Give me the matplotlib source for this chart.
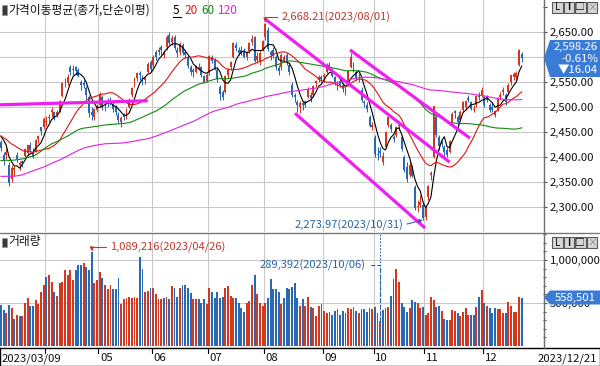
import matplotlib
matplotlib.use("Agg")
import matplotlib.pyplot as plt
import numpy as np
import pandas as pd
from matplotlib.patches import Rectangle, Polygon
from matplotlib.lines import Line2D
from matplotlib.transforms import blended_transform_factory, offset_copy

plt.rcParams["font.family"] = ["Noto Sans CJK KR", "DejaVu Sans"]

# KOSPI daily 2023/03/09 .. 2023/12/21, KRX holidays removed
HOLIDAYS = ["2023-05-01", "2023-05-05", "2023-05-29", "2023-06-06", "2023-08-15",
            "2023-09-28", "2023-09-29", "2023-10-02", "2023-10-03", "2023-10-09"]
dates = pd.bdate_range("2023-03-09", "2023-12-21")
dates = dates[~dates.isin(pd.to_datetime(HOLIDAYS))]

# closes before the window (only used by the 20/60/120 averages)
pre_close = [
    2401, 2382, 2355, 2367, 2347, 2332, 2290, 2220, 2223, 2169, 2161, 2155,
    2209, 2215, 2237, 2232, 2192, 2202, 2162, 2212, 2219, 2249, 2237, 2218, 2213, 2236, 2235, 2235, 2247, 2268, 2293,
    2335, 2336, 2329, 2348, 2399, 2399, 2424, 2402, 2483, 2474, 2480, 2477, 2442, 2444, 2419, 2405, 2418, 2441, 2437, 2408, 2433, 2473,
    2479, 2434, 2419, 2393, 2382, 2371, 2389, 2371, 2399, 2373, 2361, 2352, 2353, 2333, 2347, 2356, 2313, 2317, 2332, 2280, 2236,
    2225, 2218, 2255, 2264, 2289, 2350, 2351, 2359, 2365, 2386, 2399, 2379, 2368, 2380, 2395, 2428, 2468, 2484, 2450, 2425,
    2449, 2469, 2480, 2438, 2452, 2483, 2481, 2469, 2453, 2465, 2428, 2475, 2451, 2455, 2451, 2417, 2439, 2423, 2402, 2412,
    2432, 2432, 2462, 2463, 2431,
]

opn = [
    2430, 2405, 2405, 2385, 2356, 2375, 2405, 2384, 2393, 2402, 2409, 2425, 2410, 2413, 2437, 2460, 2460,
    2470, 2478, 2490, 2490, 2485, 2493, 2522, 2550, 2548, 2580, 2575, 2580, 2575, 2550, 2548, 2538, 2520, 2490, 2480, 2495,
    2505, 2520, 2500, 2512, 2512, 2505, 2500, 2485, 2470, 2485, 2478, 2500, 2525, 2543, 2558, 2568, 2560, 2555, 2570, 2590,
    2585, 2610, 2610, 2620, 2605, 2620, 2645, 2630, 2640, 2615, 2610, 2625, 2610, 2600, 2580, 2575, 2570, 2578, 2580, 2562, 2552,
    2568, 2600, 2595, 2575, 2540, 2530, 2530, 2565, 2580, 2600, 2625, 2615, 2615, 2612, 2600, 2612, 2630, 2640, 2595, 2590, 2615,
    2640, 2655, 2610, 2615, 2600, 2578, 2580, 2595, 2605, 2585, 2545, 2524, 2510, 2500, 2508, 2510, 2520, 2525, 2525, 2548, 2555, 2560,
    2560, 2570, 2585, 2575, 2560, 2540, 2552, 2545, 2535, 2545, 2580, 2585, 2570, 2560, 2535, 2510, 2505, 2480, 2460,
    2440, 2405, 2412, 2390, 2420, 2465, 2465, 2440, 2445, 2465, 2440, 2400, 2380, 2365, 2380, 2340, 2300, 2305, 2305,
    2280, 2320, 2365, 2400, 2480, 2440, 2432, 2420, 2415, 2410, 2470, 2492, 2480, 2475, 2495, 2500, 2518, 2510, 2495, 2505, 2525, 2525,
    2520, 2518, 2505, 2500, 2485, 2495, 2520, 2530, 2525, 2530, 2550, 2560, 2560, 2585, 2606,
]
high = [
    2435, 2410, 2418, 2390, 2385, 2383, 2410, 2392, 2395, 2418, 2425, 2430, 2418, 2436, 2445, 2461, 2480,
    2483, 2486, 2500, 2493, 2495, 2515, 2550, 2558, 2566, 2585, 2585, 2583, 2578, 2555, 2555, 2542, 2525, 2500, 2498, 2506,
    2530, 2525, 2508, 2518, 2520, 2510, 2505, 2490, 2482, 2488, 2498, 2518, 2540, 2560, 2570, 2572, 2565, 2562, 2590, 2595,
    2605, 2615, 2620, 2625, 2615, 2645, 2650, 2645, 2645, 2620, 2630, 2628, 2615, 2605, 2585, 2578, 2585, 2588, 2582, 2565, 2568,
    2605, 2605, 2598, 2580, 2545, 2535, 2565, 2578, 2592, 2630, 2630, 2620, 2622, 2618, 2612, 2630, 2645, 2642, 2610, 2612, 2635,
    2668.21, 2660, 2615, 2620, 2605, 2585, 2608, 2605, 2608, 2590, 2550, 2528, 2515, 2512, 2512, 2515, 2540, 2530, 2545, 2555, 2565, 2565,
    2568, 2588, 2590, 2578, 2562, 2552, 2558, 2548, 2540, 2575, 2608, 2590, 2575, 2568, 2540, 2515, 2510, 2485, 2470,
    2445, 2420, 2420, 2410, 2452, 2480, 2468, 2445, 2462, 2470, 2445, 2405, 2390, 2390, 2385, 2345, 2315, 2325, 2310,
    2305, 2345, 2372, 2502, 2485, 2445, 2435, 2425, 2420, 2435, 2490, 2495, 2485, 2495, 2512, 2515, 2525, 2512, 2505, 2525, 2530, 2540,
    2525, 2525, 2508, 2510, 2495, 2520, 2530, 2540, 2528, 2548, 2565, 2570, 2572, 2616, 2610,
]
low = [
    2412, 2385, 2396, 2343, 2350, 2362, 2390, 2375, 2380, 2400, 2405, 2410, 2398, 2410, 2428, 2445, 2456,
    2462, 2470, 2480, 2475, 2480, 2490, 2520, 2540, 2545, 2565, 2565, 2565, 2560, 2535, 2538, 2517, 2480, 2475, 2475, 2490,
    2500, 2495, 2492, 2500, 2505, 2490, 2485, 2468, 2460, 2475, 2476, 2498, 2520, 2540, 2552, 2555, 2545, 2546, 2568, 2570,
    2580, 2595, 2605, 2605, 2598, 2615, 2625, 2625, 2615, 2600, 2605, 2605, 2598, 2578, 2565, 2560, 2568, 2575, 2560, 2548, 2550,
    2565, 2588, 2575, 2550, 2515, 2515, 2528, 2558, 2575, 2598, 2612, 2605, 2605, 2598, 2595, 2608, 2625, 2590, 2588, 2585, 2612,
    2635, 2612, 2595, 2598, 2575, 2565, 2575, 2590, 2585, 2565, 2520, 2510, 2490, 2488, 2495, 2500, 2518, 2510, 2520, 2540, 2550, 2550,
    2550, 2568, 2575, 2560, 2545, 2535, 2540, 2530, 2525, 2543, 2578, 2570, 2555, 2550, 2510, 2500, 2490, 2460, 2455,
    2400, 2395, 2400, 2385, 2418, 2460, 2450, 2430, 2440, 2455, 2412, 2370, 2350, 2360, 2360, 2295, 2290, 2300, 2273.97,
    2275, 2315, 2355, 2398, 2440, 2415, 2420, 2400, 2400, 2408, 2468, 2478, 2465, 2472, 2490, 2495, 2510, 2495, 2490, 2500, 2515, 2520,
    2500, 2510, 2490, 2490, 2480, 2492, 2515, 2525, 2505, 2525, 2545, 2555, 2555, 2582, 2590,
]
close = [
    2419, 2395, 2411, 2349, 2379, 2378, 2396, 2388, 2389, 2417, 2424, 2415, 2400, 2434, 2443, 2453, 2477,
    2472, 2480, 2495, 2478, 2490, 2512, 2548, 2551, 2561, 2571, 2576, 2572, 2563, 2544, 2544, 2524, 2489, 2485, 2496, 2502,
    2527, 2501, 2501, 2510, 2510, 2496, 2491, 2475, 2479, 2480, 2494, 2515, 2538, 2557, 2568, 2565, 2554, 2559, 2586, 2577,
    2601, 2601, 2615, 2615, 2610, 2641, 2629, 2638, 2619, 2608, 2626, 2609, 2604, 2582, 2570, 2570, 2582, 2581, 2564, 2550, 2564,
    2602, 2593, 2579, 2556, 2527, 2521, 2562, 2574, 2590, 2628, 2619, 2609, 2608, 2600, 2610, 2628, 2636, 2592, 2603, 2608, 2633,
    2667, 2616, 2605, 2603, 2580, 2573, 2605, 2601, 2591, 2570, 2525, 2520, 2505, 2508, 2505, 2505, 2537, 2519, 2543, 2552, 2561, 2556,
    2564, 2585, 2582, 2563, 2548, 2548, 2544, 2536, 2534, 2573, 2601, 2574, 2559, 2559, 2515, 2508, 2496, 2463, 2465,
    2406, 2404, 2409, 2403, 2450, 2480, 2456, 2436, 2460, 2463, 2416, 2375, 2357, 2384, 2363, 2299, 2303, 2311, 2278,
    2302, 2343, 2368, 2502, 2444, 2422, 2427, 2410, 2404, 2433, 2487, 2488, 2470, 2491, 2510, 2512, 2515, 2497, 2496, 2522, 2520, 2535,
    2505, 2515, 2495, 2494, 2492, 2518, 2525, 2535, 2511, 2544, 2564, 2567, 2569, 2614.30, 2598.26,
]
# volume, thousand shares as shown on the axis (x1000)
vol_k = [
    477, 419, 388, 477, 442, 314, 360, 349, 349, 500, 558, 465, 465, 535, 488, 632, 709,
    802, 826, 748, 632, 581, 732, 748, 884, 826, 884, 767, 884, 942, 942, 961, 922, 884, 1089.216, 730, 770,
    860, 790, 715, 660, 710, 660, 665, 790, 490, 550, 560, 570, 560, 570, 560, 1040, 900, 630, 640, 670,
    670, 600, 550, 545, 560, 570, 550, 700, 670, 570, 680, 710, 710, 670, 620, 545, 550, 545, 495, 550, 490,
    670, 630, 560, 630, 560, 575, 670, 700, 580, 560, 560, 500, 445, 400, 505, 520, 710, 825, 600, 500, 465,
    500, 560, 780, 665, 660, 630, 490, 560, 670, 665, 690, 730, 560, 465, 547, 465, 570, 453, 442, 349, 465, 488,
    407, 384, 395, 360, 407, 430, 360, 407, 388, 442, 430, 453, 407, 388, 430, 430, 395, 442, 430,
    453, 384, 289.392, 420, 442, 453, 580, 775, 891, 745, 500, 453, 395, 442, 535, 512, 500, 442, 453,
    360, 388, 570, 535, 453, 465, 407, 314, 307, 307, 420, 407, 388, 349, 395, 442, 360, 360, 360, 453, 570, 651,
    500, 465, 442, 388, 442, 430, 430, 384, 384, 512, 465, 395, 395, 570, 558.501,
]
MONTH_LABELS = ["", "05", "06", "07", "08", "09", "10", "11", "12"]
MA_WINDOWS = [5, 20, 60, 120]

# hand-drawn trend lines: (index0, price0, index1, price1)
TRENDS = [(-0.35, 2505, 55.0, 2513),
          (98.9, 2677, 168.0, 2390),
          (110.1, 2488, 158.8, 2258),
          (130.7, 2615, 175.6, 2438)]

assert len(dates) == len(close) == len(opn) == len(high) == len(low) == len(vol_k)
assert len(pre_close) == 119

RED, BLUE = "#d2381f", "#2a68b4"
MA_COL = ["#000000", "#e01414", "#138a13", "#e020e0"]
TREND_COL = "#f01ef0"
GRID = "#c9c9c9"
BOXBLUE = "#3b7bd8"

W, H = 600, 366
fig = plt.figure(figsize=(W / 100, H / 100), dpi=100)


def rect(x0, y0, x1, y1):
    return [x0 / W, 1 - y1 / H, (x1 - x0) / W, (y1 - y0) / H]


def P(x, y):
    return (x / W, 1 - y / H)


ax = fig.add_axes(rect(0, 0, 543, 232))
axv = fig.add_axes(rect(0, 233, 543, 346))
axd = fig.add_axes(rect(0, 347.5, 599.5, 365.5))

x = np.arange(len(close))
o, h, l, c = (np.array(v, float) for v in (opn, high, low, close))
vol = np.array(vol_k) * 1000
XMIN, XMAX = -0.35, 202.95
month_idx = np.where(np.diff(dates.month) != 0)[0] + 1

# ---- price panel
up = c >= o
ccol = np.where(up, RED, BLUE)
ax.vlines(x, l, h, colors=ccol, lw=0.75, zorder=3)
ax.bar(x, np.maximum(np.abs(c - o), 1.5), bottom=np.minimum(o, c), width=0.72,
       color=ccol, lw=0, zorder=3)

allc = pd.Series(pre_close + close, dtype=float)
for n, col in zip(MA_WINDOWS, MA_COL):
    ma = allc.rolling(n).mean().to_numpy()[len(pre_close):]
    ax.plot(x, ma, color=col, lw=0.8, zorder=4)

for x0, y0, x1, y1 in TRENDS:
    ax.plot([x0, x1], [y0, y1], color=TREND_COL, lw=2.3, zorder=5, solid_capstyle="butt")

ax.set_xlim(XMIN, XMAX)
ax.set_ylim(2250, 2715)
for v in range(2300, 2651, 50):
    ax.axhline(v, color=GRID, lw=0.8, zorder=0)
for mi in month_idx:
    ax.axvline(mi - 0.5, color=GRID, lw=0.8, zorder=0)
# 2,600 and 2,700 sit under the last-price box and the window buttons
ax.set_yticks(range(2300, 2701, 50))
ax.set_yticklabels([f"{v:,.2f}" if v not in (2600, 2700) else "" for v in range(2300, 2701, 50)])
ax.tick_params(axis="y", left=False, labelleft=False, right=True, labelright=True,
               direction="out", length=3, width=0.8, color="#555", pad=2,
               labelsize=8.2, labelcolor="#111")
ax.tick_params(axis="x", bottom=False, labelbottom=False)
for s in ax.spines.values():
    s.set_visible(False)

hi_i = int(np.argmax(h))
lo_i = int(np.argmin(l))
ax.annotate(f"{h[hi_i]:,.2f}({dates[hi_i]:%Y/%m/%d})", xy=(hi_i, h[hi_i]),
            xytext=(16, 6), textcoords="offset pixels", ha="left", va="center",
            fontsize=8, color="#c0392b", zorder=6,
            arrowprops=dict(arrowstyle="-|>", color="#c0392b", lw=0.8, mutation_scale=5,
                            shrinkA=1, shrinkB=1, relpos=(0, 0.5),
                            connectionstyle="angle,angleA=0,angleB=90,rad=0"))
ax.annotate(f"{l[lo_i]:,.2f}({dates[lo_i]:%Y/%m/%d})", xy=(lo_i, l[lo_i]),
            xytext=(-20, -5), textcoords="offset pixels", ha="right", va="center",
            fontsize=8, color="#2a64a8", zorder=6,
            arrowprops=dict(arrowstyle="-|>", color="#2a64a8", lw=0.8, mutation_scale=5,
                            shrinkA=1, shrinkB=0, relpos=(1, 0.5)))

# ---- volume panel
prev = np.r_[pre_close[-1], c[:-1]]
vcol = np.where(c >= prev, RED, BLUE)
axv.bar(x, vol, width=0.7, color=vcol, lw=0, zorder=3)
axv.set_xlim(XMIN, XMAX)
axv.set_ylim(0, 1_314_000)
for v in (500_000, 1_000_000):
    axv.axhline(v, color=GRID, lw=0.8, zorder=0)
for mi in month_idx:
    axv.axvline(mi - 0.5, color=GRID, lw=0.8, zorder=0)
axv.set_yticks([500_000, 1_000_000])
axv.set_yticklabels(["500,000", "1,000,000"])
axv.set_yticks(np.arange(100_000, 1_300_001, 100_000), minor=True)
axv.tick_params(axis="y", which="both", left=False, labelleft=False, right=True,
                labelright=True, direction="out", width=0.8, color="#555", pad=2,
                labelsize=8.2, labelcolor="#111")
axv.tick_params(axis="y", which="major", length=3)
axv.tick_params(axis="y", which="minor", length=2)
axv.tick_params(axis="x", bottom=False, labelbottom=False)
for s in axv.spines.values():
    s.set_visible(False)

vmax_i = int(np.argmax(vol))
vmin_i = int(np.argmin(vol))
axv.annotate(f"{vol[vmax_i]:,.0f}({dates[vmax_i]:%Y/%m/%d})", xy=(vmax_i, vol[vmax_i]),
             xytext=(18, 5), textcoords="offset pixels", ha="left", va="center",
             fontsize=8, color="#c0392b", zorder=6,
             arrowprops=dict(arrowstyle="-|>", color="#c0392b", lw=0.8, mutation_scale=5,
                             shrinkA=1, shrinkB=1, relpos=(0, 0.5),
                             connectionstyle="angle,angleA=0,angleB=90,rad=0"))
axv.axvline(vmin_i, color="#2a64a8", lw=0.8, ls=(0, (1.5, 1.5)), zorder=4)
axv.annotate(f"{vol[vmin_i]:,.0f}({dates[vmin_i]:%Y/%m/%d})", xy=(vmin_i, vol[vmin_i]),
             xytext=(-15, 56), textcoords="offset pixels", ha="right", va="center",
             fontsize=8, color="#2a64a8", zorder=6,
             arrowprops=dict(arrowstyle="-", color="#2a64a8", lw=0.8, ls=(0, (3, 2.5)),
                             shrinkA=2, shrinkB=0, relpos=(1, 0.5),
                             connectionstyle="angle,angleA=0,angleB=90,rad=0"))

# ---- date strip
axd.set_xlim(0, 1)
axd.set_ylim(0, 1)
axd.set_xticks([])
axd.set_yticks([])
for s in axd.spines.values():
    s.set_color("#000")
    s.set_linewidth(1.0)
tr = blended_transform_factory(ax.transData, axd.transAxes)
tr_lab = offset_copy(tr, fig=fig, x=1.5, y=0, units="dots")
for mi, lab in zip(month_idx, MONTH_LABELS):
    axd.plot([mi - 0.5, mi - 0.5], [1, 0.68], transform=tr, color="#000", lw=0.8, clip_on=False)
    if lab:
        axd.text(mi - 0.5, 0.4, lab, transform=tr_lab, ha="left", va="center",
                 fontsize=8.2, color="#111")
axd.text(2 / 599.5, 0.4, f"{dates[0]:%Y/%m/%d}", ha="left", va="center", fontsize=8.2, color="#111")
axd.text(597 / 599.5, 0.4, f"{dates[-1]:%Y/%m/%d}", ha="right", va="center", fontsize=8.2, color="#111")

# ---- frame lines
fig.add_artist(Line2D([543.5 / W] * 2, [1, 1 - 347.5 / H], color="#6e6e6e", lw=1.0, zorder=8))
fig.add_artist(Line2D([0, 1], [1 - 232.5 / H] * 2, color="#7a7a7a", lw=1.0, zorder=8))

# ---- last value boxes
last = c[-1]
chg = c[-1] - c[-2]
ptsb = [P(544, 58), P(550, 40), P(600, 40), P(600, 77), P(550, 77)]
fig.add_artist(Polygon(ptsb, closed=True, transform=fig.transFigure, facecolor=BOXBLUE,
                       edgecolor="none", zorder=9))
fig.text(*P(598, 46.5), f"{last:,.2f}", ha="right", va="center", fontsize=8.2, color="white", zorder=10)
fig.text(*P(598, 58.5), f"-{abs(chg) / c[-2] * 100:.2f}%", ha="right", va="center", fontsize=8.2,
         color="white", zorder=10)
fig.text(*P(598, 70.5), f"▼{abs(chg):.2f}", ha="right", va="center", fontsize=8.2, color="white", zorder=10)

ptsv = [P(544, 297.5), P(550, 290.5), P(600, 290.5), P(600, 304.5), P(550, 304.5)]
fig.add_artist(Polygon(ptsv, closed=True, transform=fig.transFigure, facecolor=BOXBLUE,
                       edgecolor="none", zorder=9))
fig.text(*P(596, 297.5), f"{vol[-1]:,.0f}", ha="right", va="center", fontsize=8.2, color="white", zorder=10)

# ---- window buttons
for y0 in (2, 237):
    for k, g in enumerate(["L", "I", "□", "×"]):
        x0 = 552 + 11.5 * k
        fig.add_artist(Rectangle(P(x0, y0 + 10.5), 10.5 / W, 10.5 / H, transform=fig.transFigure,
                                 facecolor="#d6d6d6", edgecolor="#5a5a5a", lw=0.8, zorder=9))
        fig.text(*P(x0 + 5.25, y0 + 5.5), g, ha="center", va="center", fontsize=7,
                 fontweight="bold" if g == "I" else "normal",
                 color="#888" if g == "×" else "#111", zorder=10)

# ---- panel titles
for y0, label in ((5.5, "가격이동평균(종가,단순이평)"), (237.5, "거래량")):
    fig.add_artist(Rectangle(P(2, y0 + 9), 5 / W, 9 / H, transform=fig.transFigure,
                             facecolor="#3a3a3a", edgecolor="#999", lw=0.6, zorder=9))
    fig.text(*P(8.5, y0 + 4.5), label, ha="left", va="center", fontsize=8.5, color="#111", zorder=10)
for xp, n, col in zip((173, 184, 201, 218), MA_WINDOWS, MA_COL):
    fig.text(*P(xp, 10), str(n), ha="left", va="center", fontsize=8.5, color=col, zorder=10)
fig.add_artist(Line2D([172.5 / W, 181 / W], [1 - 16.5 / H] * 2, color="#000", lw=0.8, zorder=10))

fig.savefig("out.png", dpi=100)
